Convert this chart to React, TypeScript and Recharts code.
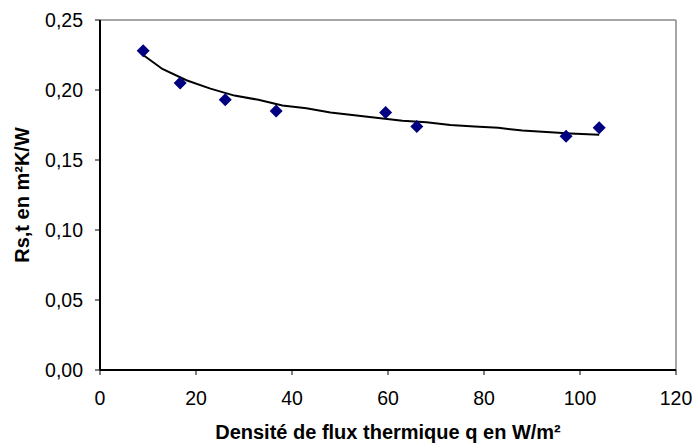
import { ScatterChart, Scatter, XAxis, YAxis, ReferenceLine, Label } from "recharts";

// measured points: heat flux density (W/m²) vs Rs,t (m²K/W)
const fluxValues = [9.0, 16.7, 26.1, 36.7, 59.5, 66.0, 97.1, 104.0];
const resistanceValues = [0.228, 0.205, 0.193, 0.185, 0.184, 0.174, 0.167, 0.173];

// trend curve as drawn in the picture
const trendFlux = [9, 13, 18, 23, 28, 33, 38, 43, 48, 53, 58, 63, 68, 73, 78, 83, 88, 93, 98, 104];
const trendValues = [0.225, 0.215, 0.207, 0.201, 0.196, 0.193, 0.189, 0.187, 0.184, 0.182, 0.18, 0.178, 0.177, 0.175, 0.174, 0.173, 0.171, 0.17, 0.169, 0.168];

const xTicks = [0, 20, 40, 60, 80, 100, 120];
const yTicks = [0, 0.05, 0.1, 0.15, 0.2, 0.25];

const points = fluxValues.map((x, i) => ({ x, y: resistanceValues[i] }));
const trend = trendFlux.map((x, i) => ({ x, y: trendValues[i] }));

const fmt = (v: number) => v.toFixed(2).replace(".", ",");

const Diamond = (props: any) => {
  const { cx, cy } = props;
  const r = 6.5;
  return (
    <polygon
      points={`${cx},${cy - r} ${cx + r},${cy} ${cx},${cy + r} ${cx - r},${cy}`}
      fill="#000080"
    />
  );
};

const tickStyle = { fontFamily: "Arial, 'Liberation Sans', sans-serif", fontSize: 19.5, fill: "#000" };
const titleStyle = { fontFamily: "Arial, 'Liberation Sans', sans-serif", fontSize: 20, fontWeight: "bold", fill: "#000" };

export default function App() {
  return (
    <div style={{ position: "absolute", left: 0, top: 0, background: "#fff" }}>
      <ScatterChart width={696} height={445} margin={{ top: 20, right: 20, bottom: 0, left: 0 }}>
        <XAxis
          type="number"
          dataKey="x"
          domain={[0, 120]}
          ticks={xTicks}
          interval={0}
          height={75}
          tick={tickStyle}
          tickSize={5}
          tickMargin={16}
          stroke="#000"
          axisLine={{ stroke: "#000", strokeWidth: 2 }}
        >
          <Label value="Densité de flux thermique q en W/m²" position="insideBottom" offset={6} style={titleStyle} />
        </XAxis>
        <YAxis
          type="number"
          dataKey="y"
          domain={[0, 0.25]}
          ticks={yTicks}
          interval={0}
          width={100}
          tick={tickStyle}
          tickFormatter={fmt}
          tickSize={5}
          tickMargin={12}
          stroke="#000"
          axisLine={{ stroke: "#000", strokeWidth: 2 }}
        >
          <Label
            value="Rs,t en m²K/W"
            angle={-90}
            position="insideLeft"
            offset={22}
            style={{ ...titleStyle, textAnchor: "middle" }}
          />
        </YAxis>
        <ReferenceLine y={0.25} stroke="#888" strokeWidth={1.5} />
        <ReferenceLine x={120} stroke="#888" strokeWidth={1.5} />
        <Scatter
          data={trend}
          line={{ stroke: "#000", strokeWidth: 2 }}
          lineType="joint"
          shape={() => <g />}
          isAnimationActive={false}
        />
        <Scatter data={points} shape={Diamond} isAnimationActive={false} />
      </ScatterChart>
    </div>
  );
}
